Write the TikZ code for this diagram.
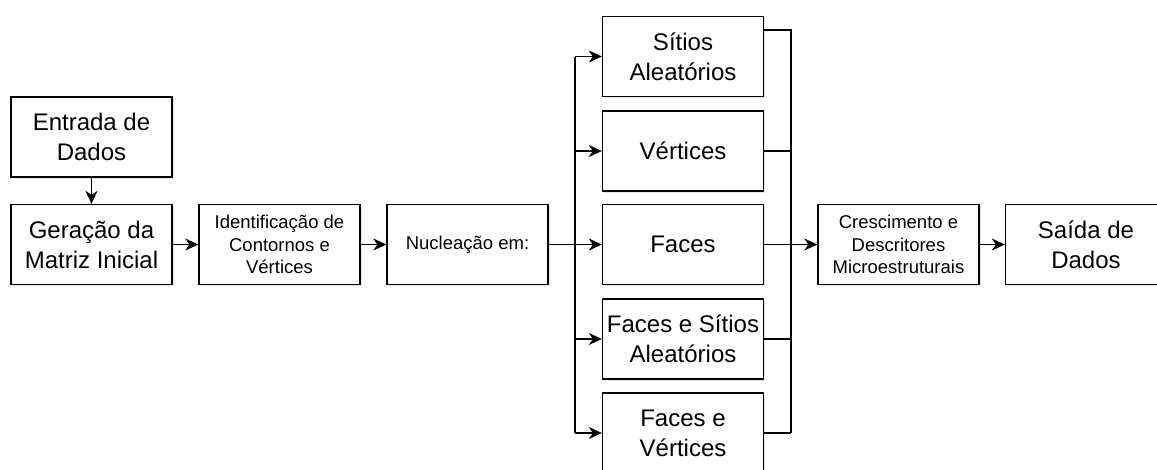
\documentclass[tikz,border=0pt]{standalone}
\usepackage{fontspec}
\setmainfont{Liberation Sans}
\usetikzlibrary{arrows.meta,shadows}

\begin{document}
\begin{tikzpicture}[x=1pt,y=-1pt,
    >={Stealth[length=13pt,width=12pt,inset=4pt]},
    blk/.style={draw,line width=1.3pt,fill=white,align=center,inner sep=1pt,
        minimum width=161pt,minimum height=80pt,
        drop shadow={shadow xshift=1.5pt,shadow yshift=-1.5pt,opacity=0.2}},
    big/.style={font=\fontsize{24}{30}\selectfont},
    small/.style={font=\fontsize{18.5}{22.5}\selectfont},
    conn/.style={line width=1.3pt}]
    \useasboundingbox (0,0) rectangle (1157,469);

    \node[blk,big] (ent) at (91.5,137) {Entrada de\\Dados};
    \node[blk,big] (ger) at (91.5,244.5) {Geração da\\Matriz Inicial};
    \node[blk,small] (ide) at (279.5,244.5) {Identificação de\\Contornos e\\Vértices};
    \node[blk,small] (nuc) at (467.5,244.5) {Nucleação em:};

    \node[blk,big] (sit) at (683,56.5) {Sítios\\Aleatórios};
    \node[blk,big] (ver) at (683,151) {Vértices};
    \node[blk,big] (fac) at (683,244.5) {Faces};
    \node[blk,big] (fes) at (683,339) {Faces e Sítios\\Aleatórios};
    \node[blk,big] (fev) at (683,433) {Faces e\\Vértices};

    \node[blk,small] (cre) at (898.5,244.5) {Crescimento e\\Descritores\\Microestruturais};
    \node[blk,big] (sai) at (1086,244.5) {Saída de\\Dados};

    \coordinate (split) at (575,244.5);
    \coordinate (join) at (791,244.5);
    \coordinate (jtop) at (791,30);

    \draw[conn,->] (ent) -- (ger);
    \draw[conn,->] (ger) -- (ide);
    \draw[conn,->] (ide) -- (nuc);

    % branch to the nucleation options
    \draw[conn,->] (nuc) -- (fac);
    \draw[conn] (split |- sit) -- (split |- fev);
    \foreach \n in {sit,ver,fes,fev}
        \draw[conn,->] (split |- \n) -- (\n);

    % back together
    \draw[conn] (sit.east |- jtop) -- (jtop) -- (join |- fev);
    \foreach \n in {ver,fes,fev}
        \draw[conn] (\n) -- (join |- \n);
    \draw[conn,->] (fac) -- (cre);
    \draw[conn,->] (cre) -- (sai);
\end{tikzpicture}
\end{document}
